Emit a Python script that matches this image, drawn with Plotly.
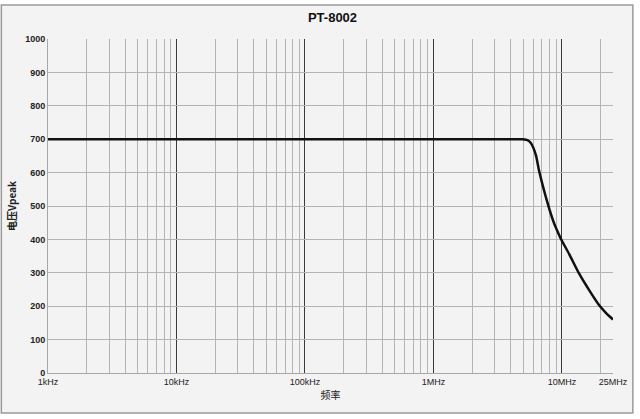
import plotly.graph_objects as go

# Data
freq_hz = [1e3, 1e4, 1e5, 1e6, 3e6, 4.6e6, 4.99e6, 5.4e6, 5.75e6, 6.0e6, 6.3e6, 6.65e6, 7.0e6,
           7.5e6, 8.0e6, 8.7e6, 9.4e6, 10.0e6, 11.4e6, 13.6e6, 16.3e6, 19.4e6, 22e6, 25e6]
vpeak = [700, 700, 700, 700, 700, 700, 700, 697, 688, 674, 650, 605, 570,
         527, 490, 448, 418, 396, 356, 298, 248, 204, 180, 160]

major_ticks = [1e3, 1e4, 1e5, 1e6, 1e7, 2.5e7]
major_labels = ["1kHz", "10kHz", "100kHz", "1MHz", "10MHz", "25MHz"]
minor_ticks = [m * d for d in [1e3, 1e4, 1e5, 1e6, 1e7] for m in range(2, 10) if m * d <= 2.5e7]

title_text = "PT-8002"
y_title = "电压Vpeak"
x_title = "频率"

fig = go.Figure()
fig.add_trace(go.Scatter(
    x=freq_hz, y=vpeak, mode="lines",
    line=dict(color="#111111", width=2.5, shape="spline", smoothing=0.4),
    hoverinfo="skip", showlegend=False,
))

fig.update_layout(
    width=640, height=419,
    margin=dict(l=48, r=23, t=39, b=46),
    paper_bgcolor="white",
    plot_bgcolor="#f8f8f8",
    title=dict(text=title_text, x=(48 + 617) / 2 / 640, xanchor="center",
               y=1 - 17 / 419, yanchor="middle",
               font=dict(family="Liberation Sans", size=13, color="#111111", weight="bold")),
    shapes=[dict(type="rect", xref="paper", yref="paper",
                 x0=(1 - 48) / 569, x1=(637 - 48) / 569,
                 y0=(373 - 413) / 334, y1=(373 - 5) / 334,
                 line=dict(color="#9a9a9a", width=1.5), fillcolor="#f3f3f3", layer="below")],
)

fig.update_xaxes(
    type="log", range=[3, 7.39794],
    tickvals=major_ticks, ticktext=major_labels, ticks="",
    tickfont=dict(family="Liberation Sans", size=9, color="#222222"),
    showgrid=True, gridcolor="#3a3a3a", gridwidth=1,
    minor=dict(tickvals=minor_ticks, showgrid=True, gridcolor="#b4b4b4", gridwidth=1, ticks=""),
    showline=True, linecolor="#a8a8a8", linewidth=1,
    zeroline=False,
    title=dict(text=x_title, standoff=6,
               font=dict(family="Noto Sans CJK SC", size=10, color="#222222")),
)

fig.update_yaxes(
    range=[0, 1000], dtick=100, ticks="",
    tickfont=dict(family="Liberation Sans", size=9, color="#222222", weight="bold"),
    showgrid=True, gridcolor="#b4b4b4", gridwidth=1,
    showline=True, linecolor="#a8a8a8", linewidth=1,
    zeroline=False,
    title=dict(text=y_title, standoff=6,
               font=dict(family="Noto Sans CJK SC", size=10, color="#222222", weight="bold")),
)

fig.write_html("out.html", config={"displayModeBar": False},
               post_script="document.body.style.margin='0';document.body.style.overflow='hidden';")
